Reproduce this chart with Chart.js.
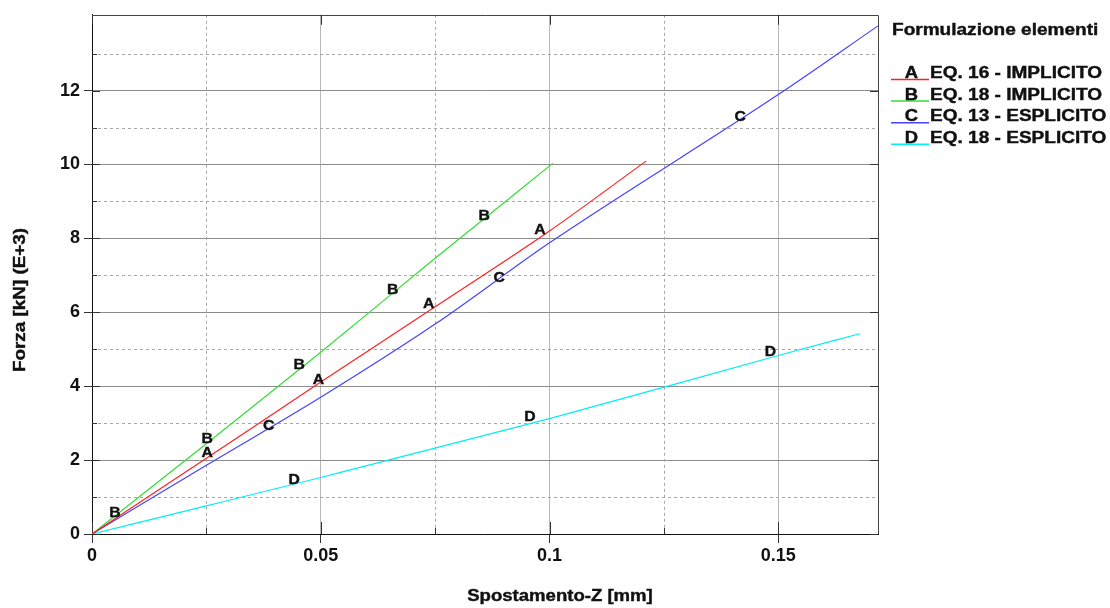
<!DOCTYPE html>
<html>
<head>
<meta charset="utf-8">
<title>Forza - Spostamento</title>
<script src="https://cdn.jsdelivr.net/npm/chart.js@4.4.0/dist/chart.umd.min.js"></script>
<style>
  html, body { margin: 0; padding: 0; background: #fff; }
  #wrap { width: 1110px; height: 608px; position: relative; }
</style>
</head>
<body>
<div id="wrap"><canvas id="chart"></canvas></div>
<script>
// series (spostamento in mm, forza in kN E+3)
const seriesNames = ['A', 'B', 'C', 'D'];
const seriesLabels = ['EQ. 16 - IMPLICITO', 'EQ. 18 - IMPLICITO', 'EQ. 13 - ESPLICITO', 'EQ. 18 - ESPLICITO'];
const seriesColors = ['#ff2020', '#33dd33', '#4444ff', '#00f0f0'];

const serieA = [[0, 0], [0.025, 2.05], [0.05, 4.11], [0.075, 6.15], [0.1, 8.2], [0.1211, 10.09]];
const serieB = [[0, 0], [0.025, 2.44], [0.05, 4.92], [0.075, 7.46], [0.1007, 10.03]];
const serieC = [[0, 0], [0.025, 1.86], [0.05, 3.70], [0.075, 5.68], [0.1, 7.88], [0.15, 11.89], [0.1718, 13.75]];
const serieD = [[0, 0], [0.025, 0.76], [0.05, 1.53], [0.1, 3.12], [0.15, 4.83], [0.1678, 5.42]];

// where the letters sit on each curve
const markA = [[0.0252, 2.19], [0.0495, 4.18], [0.0736, 6.22], [0.0979, 8.24]];
const markB = [[0.0050, 0.57], [0.0252, 2.57], [0.0453, 4.59], [0.0657, 6.60], [0.0857, 8.62]];
const markC = [[0.0386, 2.92], [0.0890, 6.92], [0.1417, 11.30]];
const markD = [[0.0442, 1.46], [0.0957, 3.16], [0.1483, 4.92]];

const xTicks = [0, 0.05, 0.1, 0.15];
const xMinor = [0.025, 0.075, 0.125];
const yTicks = [0, 2, 4, 6, 8, 10, 12];
const yMinor = [1, 3, 5, 7, 9, 11, 13];

const xTitle = 'Spostamento-Z [mm]';
const yTitle = 'Forza [kN] (E+3)';
const legendTitle = 'Formulazione elementi';

const FONT = '"Liberation Sans", Arial, sans-serif';
const allSeries = [serieA, serieB, serieC, serieD];
const allMarks = [markA, markB, markC, markD];

const toPoints = (arr) => arr.map(p => ({ x: p[0], y: p[1] }));

// the original renders its text a bit wider and heavier than Arial
function wideText(ctx, text, x, y, sx) {
  ctx.save();
  ctx.translate(x, y);
  ctx.scale(sx, 1);
  ctx.fillText(text, 0, 0);
  ctx.strokeText(text, 0, 0);
  ctx.restore();
}

// minor dashed grid, inner tick marks, top/right frame
const gridPlugin = {
  id: 'gridPlugin',
  beforeDatasetsDraw(chart) {
    const { ctx, chartArea: a, scales: { x, y } } = chart;
    ctx.save();
    ctx.lineWidth = 1;
    ctx.strokeStyle = '#a8a8a8';
    ctx.setLineDash([3, 3]);
    xMinor.forEach(v => {
      const px = Math.round(x.getPixelForValue(v)) + 0.5;
      ctx.beginPath(); ctx.moveTo(px, a.top); ctx.lineTo(px, a.bottom); ctx.stroke();
    });
    yMinor.forEach(v => {
      const py = Math.round(y.getPixelForValue(v)) + 0.5;
      ctx.beginPath(); ctx.moveTo(a.left, py); ctx.lineTo(a.right, py); ctx.stroke();
    });
    ctx.setLineDash([]);

    ctx.strokeStyle = '#333';
    xTicks.forEach(v => {
      const px = Math.round(x.getPixelForValue(v)) + 0.5;
      ctx.beginPath(); ctx.moveTo(px, a.bottom); ctx.lineTo(px, a.bottom - 12); ctx.stroke();
      ctx.beginPath(); ctx.moveTo(px, a.top); ctx.lineTo(px, a.top + 10); ctx.stroke();
    });
    xMinor.forEach(v => {
      const px = Math.round(x.getPixelForValue(v)) + 0.5;
      ctx.beginPath(); ctx.moveTo(px, a.bottom); ctx.lineTo(px, a.bottom - 6); ctx.stroke();
    });
    yTicks.forEach(v => {
      const py = Math.round(y.getPixelForValue(v)) + 0.5;
      ctx.beginPath(); ctx.moveTo(a.left, py); ctx.lineTo(a.left + 8, py); ctx.stroke();
      ctx.beginPath(); ctx.moveTo(a.right, py); ctx.lineTo(a.right - 8, py); ctx.stroke();
    });
    yMinor.forEach(v => {
      const py = Math.round(y.getPixelForValue(v)) + 0.5;
      ctx.beginPath(); ctx.moveTo(a.left, py); ctx.lineTo(a.left + 5, py); ctx.stroke();
    });

    ctx.strokeStyle = '#444';
    ctx.beginPath();
    ctx.moveTo(Math.round(a.left), Math.round(a.top) + 0.5);
    ctx.lineTo(Math.round(a.right) + 0.5, Math.round(a.top) + 0.5);
    ctx.lineTo(Math.round(a.right) + 0.5, Math.round(a.bottom));
    ctx.stroke();
    ctx.restore();
  },
  afterDraw(chart) {
    const { ctx, scales: { x, y } } = chart;
    ctx.save();
    ctx.fillStyle = '#111';
    ctx.strokeStyle = '#111';
    ctx.lineWidth = 0.4;

    // letters on the curves
    ctx.font = 'bold 15px ' + FONT;
    ctx.textAlign = 'center';
    ctx.textBaseline = 'middle';
    allMarks.forEach((marks, i) => {
      marks.forEach(m => {
        wideText(ctx, seriesNames[i], x.getPixelForValue(m[0]), y.getPixelForValue(m[1]), 1.05);
      });
    });

    // axis titles
    ctx.font = 'bold 16px ' + FONT;
    wideText(ctx, xTitle, 560, 597, 1.16);
    ctx.save();
    ctx.translate(21, 300);
    ctx.rotate(-Math.PI / 2);
    wideText(ctx, yTitle, 0, 0, 1.18);
    ctx.restore();

    // legend
    ctx.textAlign = 'left';
    ctx.textBaseline = 'alphabetic';
    wideText(ctx, legendTitle, 892, 35, 1.19);
    seriesNames.forEach((n, i) => {
      const base = 78 + i * 21.6;
      ctx.save();
      ctx.strokeStyle = seriesColors[i];
      ctx.lineWidth = 1.5;
      ctx.beginPath(); ctx.moveTo(891, base + 1.5); ctx.lineTo(929, base + 1.5); ctx.stroke();
      ctx.restore();
      ctx.textAlign = 'center';
      wideText(ctx, n, 911.5, base, 1.15);
      ctx.textAlign = 'left';
      wideText(ctx, seriesLabels[i], 930, base, 1.19);
    });
    ctx.restore();
  }
};

new Chart(document.getElementById('chart'), {
  type: 'scatter',
  data: {
    datasets: allSeries.map((s, i) => ({
      label: seriesNames[i] + ' ' + seriesLabels[i],
      data: toPoints(s),
      showLine: true,
      cubicInterpolationMode: 'monotone',
      borderColor: seriesColors[i],
      borderWidth: 1.2,
      pointRadius: 0,
      fill: false
    }))
  },
  options: {
    responsive: true,
    maintainAspectRatio: false,
    animation: false,
    layout: { padding: { left: 0, top: 14, right: 232, bottom: 0 } },
    plugins: { legend: { display: false }, tooltip: { enabled: false } },
    scales: {
      x: {
        type: 'linear',
        min: 0,
        max: 0.1718,
        afterBuildTicks: (scale) => { scale.ticks = xTicks.map(v => ({ value: v })); },
        afterFit: (scale) => { scale.height = 74; },
        ticks: {
          callback: (v) => String(v),
          color: '#111',
          padding: 2,
          maxRotation: 0,
          font: { family: FONT, size: 18, weight: 'bold' }
        },
        grid: { color: '#b8b8b8', lineWidth: 1, tickLength: 9, tickColor: '#333' },
        border: { color: '#111', width: 1 }
      },
      y: {
        type: 'linear',
        min: 0,
        max: 14.05,
        afterBuildTicks: (scale) => { scale.ticks = yTicks.map(v => ({ value: v })); },
        afterFit: (scale) => { scale.width = 92; },
        ticks: {
          callback: (v) => String(v),
          color: '#111',
          padding: 4,
          font: { family: FONT, size: 18, weight: 'bold' }
        },
        grid: { color: '#8c8c8c', lineWidth: 1, tickLength: 8, tickColor: '#333' },
        border: { color: '#111', width: 1 }
      }
    }
  },
  plugins: [gridPlugin]
});
</script>
</body>
</html>
